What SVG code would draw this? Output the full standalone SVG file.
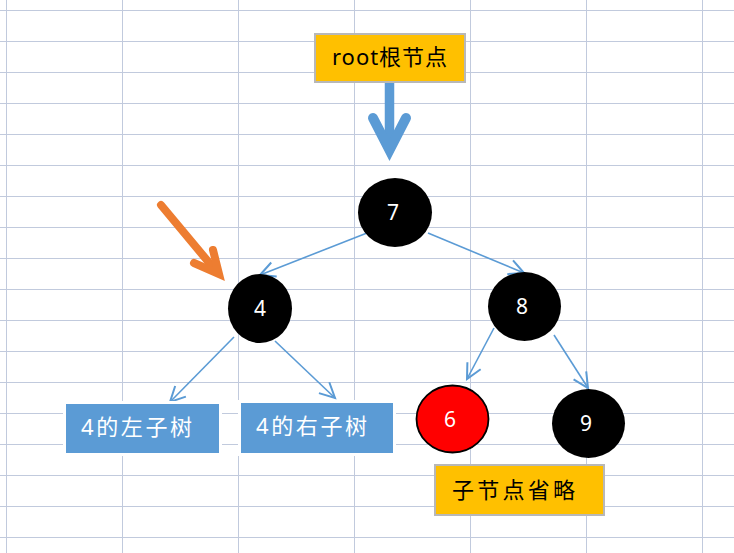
<svg xmlns="http://www.w3.org/2000/svg" width="734" height="553" viewBox="0 0 734 553">
<defs>
<style>
.grid line{stroke:#c1cadd;stroke-width:1}
.conn{stroke:#5b9bd5;stroke-width:1.6;fill:none;marker-end:url(#ah)}
.node{fill:#000}
.nt{font-family:"Noto Sans","Liberation Sans",sans-serif;font-size:21px;fill:#fff;text-anchor:middle}
.ybox{fill:#ffc000;stroke:#b8b8b8;stroke-width:2}
.bbox{fill:#5b9bd5}
.ct{font-family:"Noto Sans","Noto Sans CJK SC",sans-serif;font-size:22px}
</style>
<marker id="ah" markerUnits="userSpaceOnUse" markerWidth="20" markerHeight="20" viewBox="-14 -8 16 16" refX="0" refY="0" orient="auto">
<path d="M-12,-6 L0,0 L-12,6" fill="none" stroke="#5b9bd5" stroke-width="1.6"/>
</marker>
</defs>
<rect width="734" height="553" fill="#fff"/>
<g class="grid">
<line x1="6.5" y1="0" x2="6.5" y2="553"/>
<line x1="122.5" y1="0" x2="122.5" y2="553"/>
<line x1="238.5" y1="0" x2="238.5" y2="553"/>
<line x1="354.5" y1="0" x2="354.5" y2="553"/>
<line x1="470.5" y1="0" x2="470.5" y2="553"/>
<line x1="586.5" y1="0" x2="586.5" y2="553"/>
<line x1="702.5" y1="0" x2="702.5" y2="553"/>
<line x1="0" y1="10.5" x2="734" y2="10.5"/>
<line x1="0" y1="41.5" x2="734" y2="41.5"/>
<line x1="0" y1="72.5" x2="734" y2="72.5"/>
<line x1="0" y1="103.5" x2="734" y2="103.5"/>
<line x1="0" y1="134.5" x2="734" y2="134.5"/>
<line x1="0" y1="165.5" x2="734" y2="165.5"/>
<line x1="0" y1="196.5" x2="734" y2="196.5"/>
<line x1="0" y1="227.5" x2="734" y2="227.5"/>
<line x1="0" y1="258.5" x2="734" y2="258.5"/>
<line x1="0" y1="289.5" x2="734" y2="289.5"/>
<line x1="0" y1="320.5" x2="734" y2="320.5"/>
<line x1="0" y1="351.5" x2="734" y2="351.5"/>
<line x1="0" y1="382.5" x2="734" y2="382.5"/>
<line x1="0" y1="413.5" x2="734" y2="413.5"/>
<line x1="0" y1="444.5" x2="734" y2="444.5"/>
<line x1="0" y1="475.5" x2="734" y2="475.5"/>
<line x1="0" y1="506.5" x2="734" y2="506.5"/>
<line x1="0" y1="537.5" x2="734" y2="537.5"/>
</g>
<g id="connectors">
<line class="conn" x1="367" y1="233" x2="260" y2="275"/>
<line class="conn" x1="428" y1="233" x2="524" y2="273"/>
<line class="conn" x1="234" y1="337" x2="170" y2="402"/>
<line class="conn" x1="275" y1="341" x2="335" y2="398"/>
<line class="conn" x1="494" y1="328" x2="467" y2="379"/>
<line class="conn" x1="554" y1="335" x2="588" y2="388"/>
<g id="root-arrow" fill="none" stroke="#5b9bd5">
<line x1="389.5" y1="83" x2="389.5" y2="148" stroke-width="9.5"/>
<polyline points="373,118 389.5,150 406,118" stroke-width="10" stroke-linecap="round" stroke-linejoin="miter"/>
</g>
<g id="pointer-arrow" fill="none" stroke="#ed7d31" stroke-width="8" stroke-linecap="round">
<line x1="161" y1="205" x2="216" y2="271"/>
<polyline points="194,263 219,274 213,250" stroke-linejoin="miter" stroke-linecap="round"/>
</g>
</g>
<g id="root-label">
<rect class="ybox" x="315" y="34" width="150" height="48"/>
<text class="ct" x="332" y="65" textLength="115" fill="#000">root根节点</text>
</g>
<g id="n7"><ellipse class="node" cx="395" cy="212.5" rx="37" ry="34.5"/><text class="nt" x="393" y="220">7</text></g>
<g id="n4"><ellipse class="node" cx="260" cy="308.5" rx="32" ry="34.5"/><text class="nt" x="260" y="316">4</text></g>
<g id="n8"><ellipse class="node" cx="524.5" cy="306.5" rx="36.5" ry="34.5"/><text class="nt" x="522" y="314">8</text></g>
<g id="n6"><ellipse cx="452.5" cy="419" rx="36" ry="33.5" fill="#ff0000" stroke="#000" stroke-width="1.8"/><text class="nt" x="450" y="427">6</text></g>
<g id="n9"><ellipse class="node" cx="588.5" cy="423.5" rx="36.5" ry="34.5"/><text class="nt" x="586" y="431">9</text></g>
<g id="left-subtree">
<rect x="63" y="401" width="159" height="55" fill="#fff"/>
<rect class="bbox" x="66" y="404" width="153" height="49"/>
<text class="ct" x="81" y="435" textLength="111" fill="#fff">4的左子树</text>
</g>
<g id="right-subtree">
<rect x="238" y="400" width="158" height="56" fill="#fff"/>
<rect class="bbox" x="241" y="403" width="152" height="50"/>
<text class="ct" x="256" y="434" textLength="111" fill="#fff">4的右子树</text>
</g>
<g id="omitted">
<rect class="ybox" x="435" y="465" width="169" height="50"/>
<text class="ct" x="452" y="498" textLength="123" fill="#000">子节点省略</text>
</g>
</svg>
